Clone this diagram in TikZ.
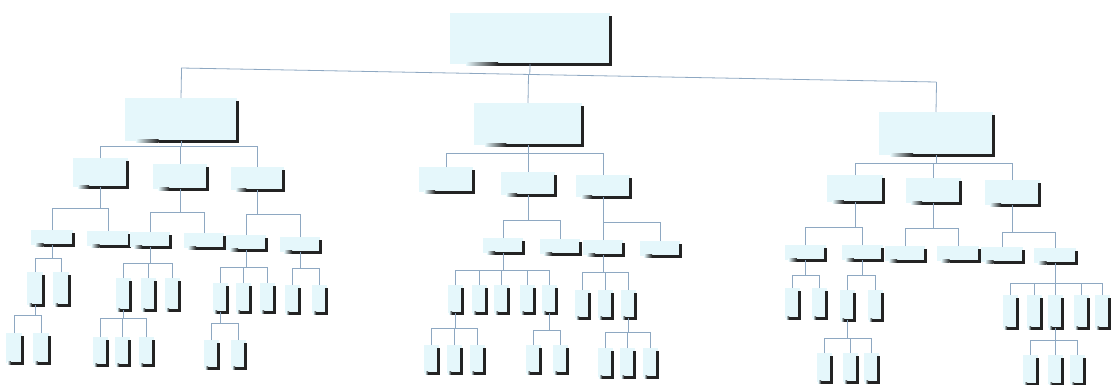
\documentclass[tikz,border=0pt]{standalone}
\usetikzlibrary{calc}
\definecolor{boxfill}{HTML}{E5F7FB}
\definecolor{shadowc}{HTML}{232323}
\definecolor{connc}{HTML}{8EA8C2}
\tikzset{
  box/.style={fill=boxfill, draw=none, inner sep=0pt, outer sep=0pt},
  conn/.style={draw=connc, line width=0.8pt}
}
% name, center x, top y, width, height
\newcommand\bx[5]{%
  \node[box, minimum width=#4pt, minimum height=#5pt] (#1) at ({#2},{#3+#5/2}) {};
  \fill[shadowc] ([xshift=-1.4pt,yshift=-3pt]#1.north east) rectangle ([xshift=1.6pt,yshift=-1.6pt]#1.south east);
  \shade[left color=boxfill, right color=shadowc] ($(#1.south west)!0.1!(#1.south east)+(0pt,1.4pt)$) rectangle ($(#1.south west)!0.3!(#1.south east)+(0pt,-1.6pt)$);
  \fill[shadowc] ($(#1.south west)!0.3!(#1.south east)+(0pt,1.4pt)$) rectangle ([xshift=1.6pt,yshift=-1.6pt]#1.south east);
}
% parent, bus y, children
\newcommand\conn[3]{%
  \coordinate (bus-#1) at (0,#2);
  \draw[conn] (#1.south) -- (#1.south |- bus-#1);
  \foreach \ch in {#3} { \draw[conn] (\ch.north) |- (#1.south |- bus-#1); }
}
\begin{document}
\begin{tikzpicture}[x=1pt,y=-1pt]
\useasboundingbox (0,0) rectangle (1115,385);
% level 0 and 1
\bx{root}{530}{13}{160}{51}
\bx{L}{181}{98}{112}{43}
\bx{M}{528}{103}{108}{42}
\bx{R}{936}{112}{114}{43}
% level 2
\bx{L1}{100}{158}{55}{29}
\bx{L2}{180}{164}{54}{25}
\bx{L3}{257}{167}{53}{23}
\bx{M1}{446}{167}{54}{25}
\bx{M2}{528}{172}{54}{23}
\bx{M3}{603}{175}{54}{22}
\bx{R1}{855}{175}{56}{27}
\bx{R2}{933}{178}{55}{25}
\bx{R3}{1012}{180}{55}{25}
% level 3
\bx{a}{52}{230}{42}{15}
\bx{b}{108}{231}{42}{15}
\bx{c}{150}{232}{40}{15}
\bx{d}{204}{233}{40}{15}
\bx{e}{246}{235}{40}{15}
\bx{f}{300}{237}{40}{15}
\bx{m21}{503}{238}{40}{15}
\bx{m22}{560}{239}{40}{15}
\bx{m31}{603}{240}{40}{15}
\bx{m32}{660}{241}{40}{15}
\bx{r11}{805}{245}{41}{15}
\bx{r12}{862}{245}{41}{15}
\bx{r21}{905}{246}{40}{15}
\bx{r22}{958}{246}{42}{15}
\bx{r31}{1002}{247}{42}{15}
\bx{r32}{1055}{248}{42}{15}
% level 4
\bx{a1}{35}{272}{16}{33}
\bx{a2}{61}{272}{16}{33}
\bx{c1}{123}{278}{15}{32}
\bx{c2}{148}{278}{15}{32}
\bx{c3}{172}{278}{15}{32}
\bx{e1}{220}{283}{15}{29}
\bx{e2}{243}{283}{15}{29}
\bx{e3}{267}{283}{15}{29}
\bx{f1}{292}{285}{15}{28}
\bx{f2}{319}{285}{15}{28}
\bx{n1}{455}{285}{15}{28}
\bx{n2}{479}{285}{15}{28}
\bx{n3}{501}{285}{15}{28}
\bx{n4}{527}{285}{15}{28}
\bx{n5}{549}{285}{15}{28}
\bx{p1}{582}{290}{15}{28}
\bx{p2}{605}{290}{15}{28}
\bx{p3}{628}{290}{15}{28}
\bx{s1}{792}{288}{15}{30}
\bx{s2}{819}{288}{15}{30}
\bx{t1}{847}{290}{15}{30}
\bx{t2}{875}{290}{15}{30}
\bx{u1}{1010}{295}{15}{33}
\bx{u2}{1034}{295}{15}{33}
\bx{u3}{1055}{295}{15}{33}
\bx{u4}{1081}{295}{15}{33}
\bx{u5}{1102}{295}{15}{33}
% level 5
\bx{v1}{14}{333}{16}{30}
\bx{v2}{41}{333}{16}{30}
\bx{w1}{100}{337}{15}{28}
\bx{w2}{122}{337}{15}{28}
\bx{w3}{146}{337}{15}{28}
\bx{x1}{211}{340}{15}{28}
\bx{x2}{238}{340}{15}{28}
\bx{y1}{431}{345}{15}{28}
\bx{y2}{454}{345}{15}{28}
\bx{y3}{477}{345}{15}{28}
\bx{z1}{533}{345}{15}{28}
\bx{z2}{560}{345}{15}{28}
\bx{q1}{605}{348}{15}{29}
\bx{q2}{627}{348}{15}{29}
\bx{q3}{650}{348}{15}{29}
\bx{k1}{824}{353}{15}{29}
\bx{k2}{850}{353}{15}{29}
\bx{k3}{871}{353}{15}{29}
\bx{g1}{1030}{355}{15}{29}
\bx{g2}{1055}{355}{15}{29}
\bx{g3}{1077}{355}{15}{29}
% connectors, top level
\coordinate (mainL) at (181,68);
\coordinate (mainR) at (936,82);
\draw[conn] (mainL) -- (mainR);
\draw[conn] (root.south) -- ($(mainL)!(root.south)!(mainR)$);
\foreach \ch in {L,M,R} { \draw[conn] (\ch.north) -- ($(mainL)!(\ch.north)!(mainR)$); }
% level 1 -> 2
\conn{L}{146}{L1,L2,L3}
\conn{M}{153}{M1,M2,M3}
\conn{R}{163}{R1,R2,R3}
% level 2 -> 3
\conn{L1}{208}{a,b}
\conn{L2}{212}{c,d}
\conn{L3}{214}{e,f}
\conn{M2}{220}{m21,m22}
\conn{M3}{222}{m31,m32}
\conn{R1}{227}{r11,r12}
\conn{R2}{228}{r21,r22}
\conn{R3}{232}{r31,r32}
% level 3 -> 4
\conn{a}{258}{a1,a2}
\conn{c}{263}{c1,c2,c3}
\conn{e}{267}{e1,e2,e3}
\conn{f}{268}{f1,f2}
\conn{m21}{270}{n1,n2,n3,n4,n5}
\conn{m31}{272}{p1,p2,p3}
\conn{r11}{275}{s1,s2}
\conn{r12}{275}{t1,t2}
\conn{r32}{283}{u1,u2,u3,u4,u5}
% level 4 -> 5
\conn{a1}{315}{v1,v2}
\conn{c1}{318}{w1,w2,w3}
\conn{e1}{323}{x1,x2}
\conn{n1}{328}{y1,y2,y3}
\conn{n5}{330}{z1,z2}
\conn{p3}{332}{q1,q2,q3}
\conn{t1}{338}{k1,k2,k3}
\conn{u3}{340}{g1,g2,g3}
\end{tikzpicture}
\end{document}
